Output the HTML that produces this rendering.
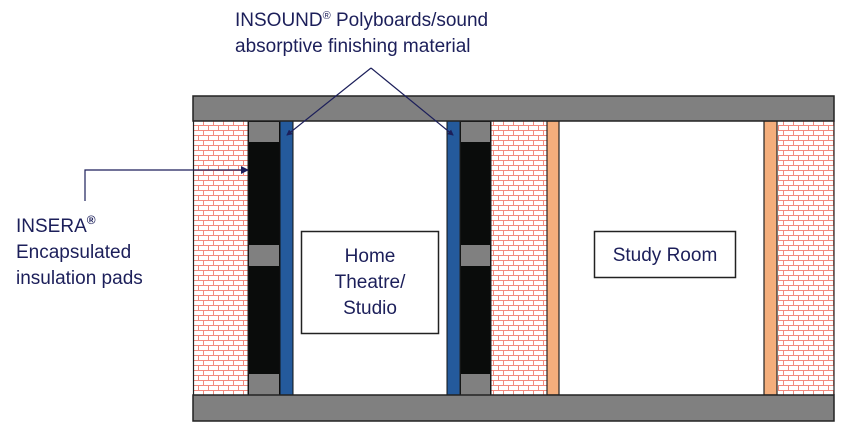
<!DOCTYPE html>
<html><head><style>
body{margin:0;background:#fff;}
svg{display:block;}
text{font-family:"Liberation Sans",Arial,sans-serif;fill:#1c1f5a;font-size:19px;}
</style></head><body>
<svg width="858" height="438" viewBox="0 0 858 438">
<defs>
<pattern id="brick" width="10" height="10" patternUnits="userSpaceOnUse">
<rect width="10" height="10" fill="#fff"/>
<path d="M0 0.5H10M0 5.5H10M3.5 0V5.5M8.5 5.5V10" stroke="#f28a7e" stroke-width="1" fill="none"/>
</pattern>
<marker id="ah" markerWidth="8" markerHeight="8" refX="7" refY="4" orient="auto" markerUnits="userSpaceOnUse">
<path d="M0,0 L8,4 L0,8z" fill="#1c1f5a"/>
</marker>
<marker id="ahs" markerWidth="6" markerHeight="6" refX="5" refY="3" orient="auto" markerUnits="userSpaceOnUse">
<path d="M0,0 L6,3 L0,6z" fill="#1c1f5a"/>
</marker>
</defs>
<rect x="193" y="121" width="55" height="274" fill="url(#brick)"/>
<rect x="491" y="121" width="56" height="274" fill="url(#brick)"/>
<rect x="778" y="121" width="56" height="274" fill="url(#brick)"/>
<rect x="248" y="121" width="32" height="274" fill="#0a0c0b" stroke="#222" stroke-width="1"/>
<rect x="249" y="122" width="30" height="20" fill="#808080"/>
<rect x="249" y="245" width="30" height="21" fill="#808080"/>
<rect x="249" y="374" width="30" height="21" fill="#808080"/>
<rect x="280" y="121" width="13" height="274" fill="#245a9c" stroke="#111" stroke-width="1"/>
<rect x="447" y="121" width="13" height="274" fill="#245a9c" stroke="#111" stroke-width="1"/>
<rect x="460" y="121" width="31" height="274" fill="#0a0c0b" stroke="#222" stroke-width="1"/>
<rect x="461" y="122" width="29" height="20" fill="#808080"/>
<rect x="461" y="245" width="29" height="21" fill="#808080"/>
<rect x="461" y="374" width="29" height="21" fill="#808080"/>
<rect x="547" y="121" width="12" height="274" fill="#f4ae7c" stroke="#222" stroke-width="1.2"/>
<rect x="764" y="121" width="13" height="274" fill="#f4ae7c" stroke="#222" stroke-width="1.2"/>
<line x1="193.5" y1="121" x2="193.5" y2="395" stroke="#222" stroke-width="1.2"/>
<line x1="834" y1="121" x2="834" y2="395" stroke="#222" stroke-width="1.2"/>
<rect x="193" y="96" width="641" height="25" fill="#808080" stroke="#222" stroke-width="1.5"/>
<rect x="193" y="395" width="641" height="26" fill="#808080" stroke="#222" stroke-width="1.5"/>
<rect x="301.5" y="231.5" width="137" height="102" fill="#fff" stroke="#222" stroke-width="1.5"/>
<text x="370" y="262" text-anchor="middle">Home</text>
<text x="370" y="288" text-anchor="middle">Theatre/</text>
<text x="370" y="314" text-anchor="middle">Studio</text>
<rect x="594.5" y="231.5" width="141" height="46" fill="#fff" stroke="#222" stroke-width="1.5"/>
<text x="665" y="261" text-anchor="middle">Study Room</text>
<text x="235" y="26">INSOUND<tspan font-size="11" dy="-7">®</tspan><tspan dy="7"> Polyboards/sound</tspan></text>
<text x="235" y="52">absorptive finishing material</text>
<path d="M371,68 L287,135" fill="none" stroke="#1c1f5a" stroke-width="1.2" marker-end="url(#ahs)"/>
<path d="M371,68 L453,135" fill="none" stroke="#1c1f5a" stroke-width="1.2" marker-end="url(#ahs)"/>
<path d="M85,201 V170 H248" fill="none" stroke="#1c1f5a" stroke-width="1.2" marker-end="url(#ah)"/>
<text x="16" y="232">INSERA<tspan font-size="12" dy="-8" font-weight="bold">®</tspan></text>
<text x="16" y="258">Encapsulated</text>
<text x="16" y="284">insulation pads</text>
</svg>
</body></html>
